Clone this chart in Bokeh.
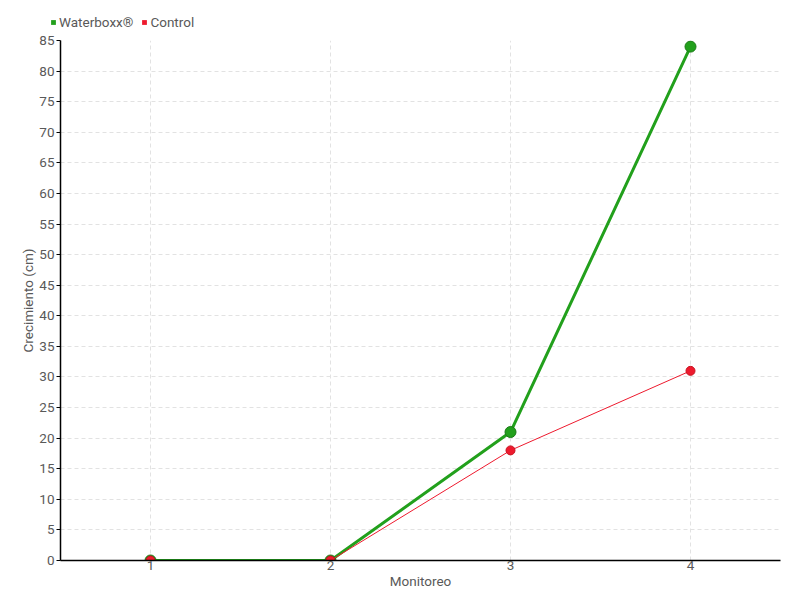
from bokeh.plotting import figure
from bokeh.layouts import column
from bokeh.models import Range1d, FixedTicker, Legend, LegendItem, ColumnDataSource
from bokeh.embed import file_html
from bokeh.resources import INLINE

monitoreo = [1, 2, 3, 4]
waterboxx = [0, 0, 21, 84]
control = [0, 0, 18, 31]
y_ticks = list(range(0, 90, 5))
series_names = ["Waterboxx®", "Control"]

FONT = "Roboto"
TXT = "#595959"
GREEN = "#22a01c"
GREEN_DARK = "#1a7a16"
RED = "#ee1a2e"
FS = "13.5px"

p = figure(width=800, height=568, output_backend="svg", toolbar_location=None,
           x_range=Range1d(0.5, 4.5), y_range=Range1d(0, 85),
           min_border_left=60, min_border_right=20, min_border_top=8, min_border_bottom=40)
p.outline_line_color = None
p.background_fill_color = "white"
p.frame_align = False

# grids
for g in (p.xgrid, p.ygrid):
    g.grid_line_color = "#e2e2e2"
    g.grid_line_dash = "4 3"
    g.grid_line_width = 1

# axes
p.xaxis.ticker = FixedTicker(ticks=monitoreo)
p.yaxis.ticker = FixedTicker(ticks=y_ticks)
p.xaxis.axis_label = "Monitoreo"
p.yaxis.axis_label = "Crecimiento (cm)"
for ax in (p.xaxis[0], p.yaxis[0]):
    ax.axis_line_color = "black"
    ax.axis_line_width = 1.5
    ax.minor_tick_line_color = None
    ax.major_label_text_font = FONT
    ax.major_label_text_color = TXT
    ax.major_label_text_font_size = FS
    ax.axis_label_text_font = FONT
    ax.axis_label_text_color = TXT
    ax.axis_label_text_font_size = FS
    ax.axis_label_text_font_style = "normal"
p.xaxis.major_tick_line_color = None
p.xaxis.major_tick_out = 0
p.xaxis.major_tick_in = 0
p.xaxis.major_label_standoff = 0
p.xaxis.axis_label_standoff = 0
p.yaxis.major_tick_line_color = "black"
p.yaxis.major_tick_out = 4
p.yaxis.major_tick_in = 0
p.yaxis.major_label_standoff = 2
p.yaxis.axis_label_standoff = 0

src = ColumnDataSource(dict(x=monitoreo, w=waterboxx, c=control))

p.line("x", "w", source=src, line_color=GREEN, line_width=3)
p.scatter("x", "w", source=src, size=11, fill_color=GREEN, line_color=GREEN_DARK, line_width=1)
p.line("x", "c", source=src, line_color=RED, line_width=1)
p.scatter("x", "c", source=src, size=9, fill_color=RED, line_color="#c8121f", line_width=1)

# legend in a thin figure above the chart
lf = figure(width=800, height=32, output_backend="svg", toolbar_location=None,
            x_range=Range1d(0, 1), y_range=Range1d(0, 1), min_border=0)
lf.frame_align = False
lf.axis.visible = False
lf.grid.visible = False
lf.outline_line_color = None
nan_src = ColumnDataSource(dict(l=[float("nan")], r=[float("nan")], b=[float("nan")], t=[float("nan")]))
lg_w = lf.quad(left="l", right="r", bottom="b", top="t", source=nan_src, fill_color=GREEN, line_color=None)
lg_c = lf.quad(left="l", right="r", bottom="b", top="t", source=nan_src, fill_color=RED, line_color=None)
legend = Legend(items=[LegendItem(label=series_names[0], renderers=[lg_w]),
                       LegendItem(label=series_names[1], renderers=[lg_c])],
                orientation="horizontal", location=(50, 2),
                label_text_font=FONT, label_text_color=TXT, label_text_font_size=FS,
                glyph_width=6, glyph_height=6, label_standoff=3, spacing=8,
                padding=0, margin=0, border_line_color=None, background_fill_alpha=0,
                label_height=14)
lf.add_layout(legend, "center")

layout = column(lf, p, spacing=0)
open("out.html", "w").write(file_html(layout, INLINE))
